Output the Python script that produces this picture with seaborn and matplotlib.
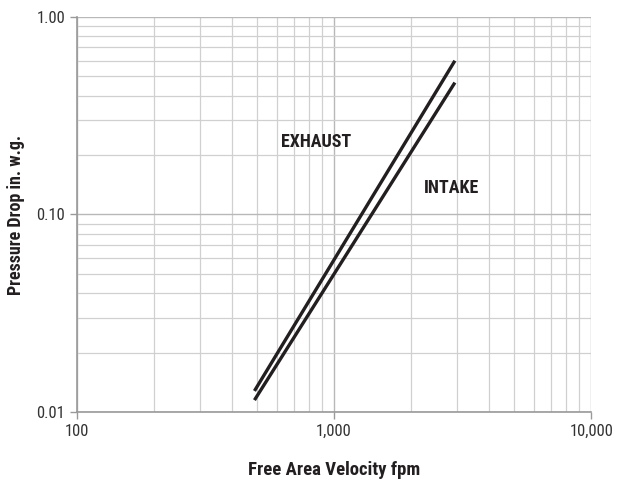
import matplotlib
matplotlib.use("Agg")
import matplotlib.pyplot as plt
import matplotlib.ticker as mticker
from matplotlib import font_manager
import seaborn as sns
import pandas as pd

series = ["EXHAUST", "EXHAUST", "INTAKE", "INTAKE"]
velocity = [490, 2950, 490, 2950]
pressure = [0.0128, 0.60, 0.0115, 0.465]

label_text = ["EXHAUST", "INTAKE"]
label_x = [622, 2230]
label_y = [0.232, 0.1366]

x_ticks = [100, 1000, 10000]
x_ticklabels = ["100", "1,000", "10,000"]
y_ticks = [0.01, 0.1, 1.0]
y_ticklabels = ["0.01", "0.10", "1.00"]

df = pd.DataFrame({"series": series, "velocity": velocity, "pressure": pressure})

sns.set_theme(style="white")

available = {f.name for f in font_manager.fontManager.ttflist}
chosen = "Liberation Sans"
for cand in ["Liberation Sans Narrow", "DejaVu Sans Condensed", "Roboto Condensed",
             "Open Sans Condensed", "Noto Sans Condensed"]:
    if cand in available:
        chosen = cand
        break
font = [chosen, "DejaVu Sans"]
plt.rcParams["font.family"] = font

fig = plt.figure(figsize=(6.21, 4.82), dpi=100)
ax = fig.add_axes([0.124, 0.145, 0.828, 0.82])

ax.set_xscale("log")
ax.set_yscale("log")
ax.set_xlim(100, 10000)
ax.set_ylim(0.01, 1.0)

ax.xaxis.set_minor_locator(mticker.LogLocator(base=10, subs=range(2, 10)))
ax.yaxis.set_minor_locator(mticker.LogLocator(base=10, subs=range(2, 10)))
ax.grid(True, which="minor", color="#d0d0d0", linewidth=0.9)
ax.grid(True, which="major", color="#b8b8b8", linewidth=1.0)
ax.set_axisbelow(True)

sns.lineplot(data=df, x="velocity", y="pressure", units="series", estimator=None,
             color="#231f20", linewidth=2.4, ax=ax, legend=False,
             solid_capstyle="butt")

for t, x, y in zip(label_text, label_x, label_y):
    ax.text(x, y, t, fontsize=13, fontweight="bold", color="#231f20",
            ha="left", va="center", family=font)

ax.set_xticks(x_ticks)
ax.set_xticklabels(x_ticklabels)
ax.set_yticks(y_ticks)
ax.set_yticklabels(y_ticklabels)
ax.xaxis.set_minor_formatter(mticker.NullFormatter())
ax.yaxis.set_minor_formatter(mticker.NullFormatter())
ax.tick_params(axis="both", which="major", length=5, width=1, color="#999999",
               labelsize=12, labelcolor="#333333", direction="out", bottom=True, left=True)
ax.tick_params(axis="both", which="minor", length=0)

for s in ["top", "right"]:
    ax.spines[s].set_visible(False)
for s in ["left", "bottom"]:
    ax.spines[s].set_color("#999999")
    ax.spines[s].set_linewidth(1.2)

ax.set_xlabel("Free Area Velocity fpm", fontsize=13.5, fontweight="bold", color="#231f20", labelpad=16)
ax.set_ylabel("Pressure Drop in. w.g.", fontsize=13, fontweight="bold", color="#231f20", labelpad=8)

fig.savefig("out.png", dpi=100)
